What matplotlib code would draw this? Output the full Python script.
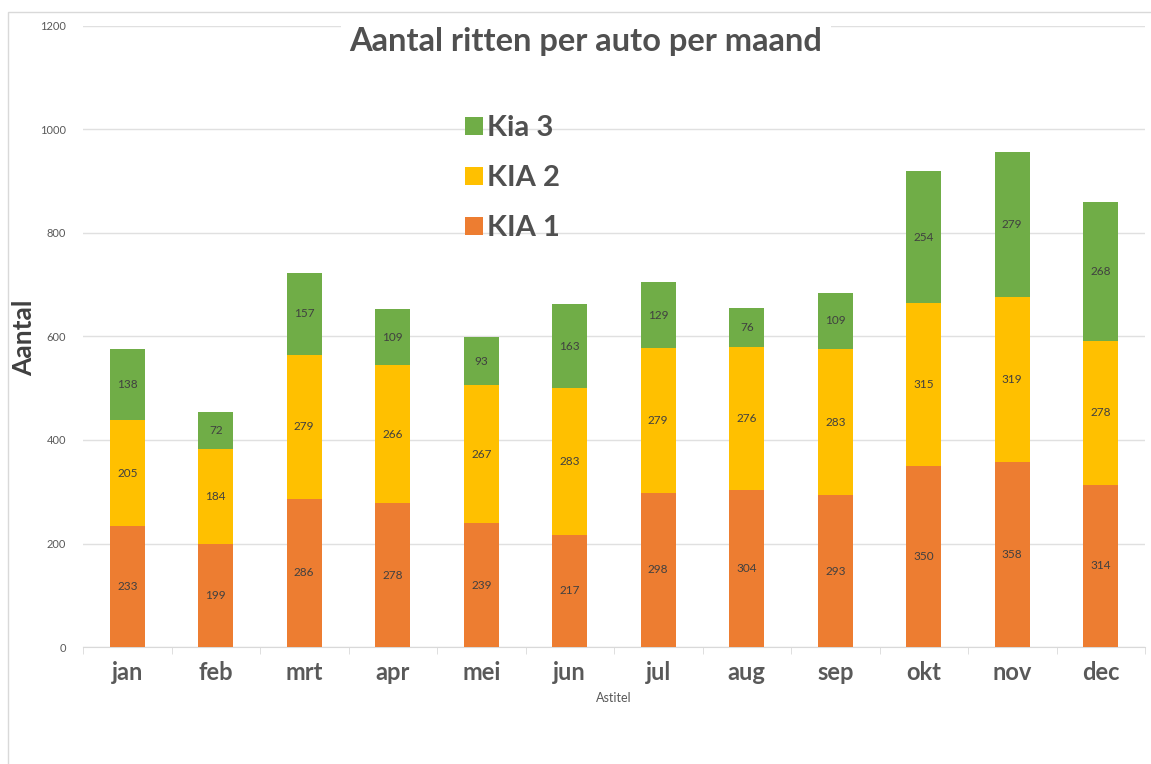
import matplotlib
matplotlib.use("Agg")
import matplotlib.pyplot as plt
import numpy as np
from matplotlib.patches import Rectangle

months = ["jan", "feb", "mrt", "apr", "mei", "jun", "jul", "aug", "sep", "okt", "nov", "dec"]
kia1 = [233, 199, 286, 278, 239, 217, 298, 304, 293, 350, 358, 314]
kia2 = [205, 184, 279, 266, 267, 283, 279, 276, 283, 315, 319, 278]
kia3 = [138, 72, 157, 109, 93, 163, 129, 76, 109, 254, 279, 268]
series_names = ["KIA 1", "KIA 2", "Kia 3"]
colors = ["#ED7D31", "#FFC000", "#70AD47"]
yticks = [0, 200, 400, 600, 800, 1000, 1200]

plt.rcParams['font.family'] = ['Lato', 'DejaVu Sans']

fig = plt.figure(figsize=(11.51, 7.64), dpi=100)
fig.patches.append(Rectangle((8/1151, -0.1), 1.2, 1.1 - 12/764, transform=fig.transFigure,
                             fill=False, edgecolor="#d9d9d9", linewidth=1.0))
ax = fig.add_axes([83/1151, 1 - 647/764, (1145 - 83)/1151, (647 - 26)/764])

x = np.arange(len(months))
bottom = np.zeros(len(months))
for vals, name, c in zip([kia1, kia2, kia3], series_names, colors):
    vals = np.array(vals)
    ax.bar(x, vals, width=0.4, bottom=bottom, color=c, label=name, zorder=3)
    for xi, b, v in zip(x, bottom, vals):
        ax.text(xi, b + v / 2, str(v), ha="center", va="center", fontsize=8.5, color="#404040", zorder=4)
    bottom = bottom + vals

ax.set_xlim(-0.5, len(months) - 0.5)
ax.set_ylim(0, 1200)
ax.set_yticks(yticks)
ax.set_yticklabels([str(t) for t in yticks], fontsize=8, color="#595959")
ax.yaxis.grid(True, color="#e0e0e0", linewidth=1, zorder=0)
ax.set_axisbelow(True)
ax.tick_params(axis="y", length=0, pad=12)
ax.set_xticks(x)
ax.set_xticklabels(months, fontsize=17, fontweight="bold", color="#595959")
ax.set_xticks(np.arange(-0.5, len(months)), minor=True)
ax.tick_params(axis="x", which="major", length=0, pad=10)
ax.tick_params(axis="x", which="minor", length=5, color="#d9d9d9")
for s in ["top", "right", "left"]:
    ax.spines[s].set_visible(False)
ax.spines["bottom"].set_color("#d9d9d9")
ax.set_ylabel("Aantal", fontsize=19, fontweight="bold", color="#404040")
ax.yaxis.set_label_coords(36/1151, 1 - 338/764, transform=fig.transFigure)
ax.set_xlabel("Astitel", fontsize=9, color="#595959", labelpad=6)

fig.text(586/1151, 1 - 42/764, "Aantal ritten per auto per maand", ha="center", va="center",
         fontsize=23.5, fontweight="bold", color="#505050",
         bbox=dict(facecolor="white", edgecolor="none", pad=6))

h, l = ax.get_legend_handles_labels()
leg = ax.legend(h[::-1], l[::-1], loc="upper left", bbox_to_anchor=(439/1151, 1 - 89/764),
                bbox_transform=fig.transFigure, frameon=False, prop=dict(size=21, weight="bold"),
                labelcolor="#505050", handlelength=0.6, handleheight=0.6, handletextpad=0.15,
                labelspacing=0.82)

fig.savefig("out.png", dpi=100)
